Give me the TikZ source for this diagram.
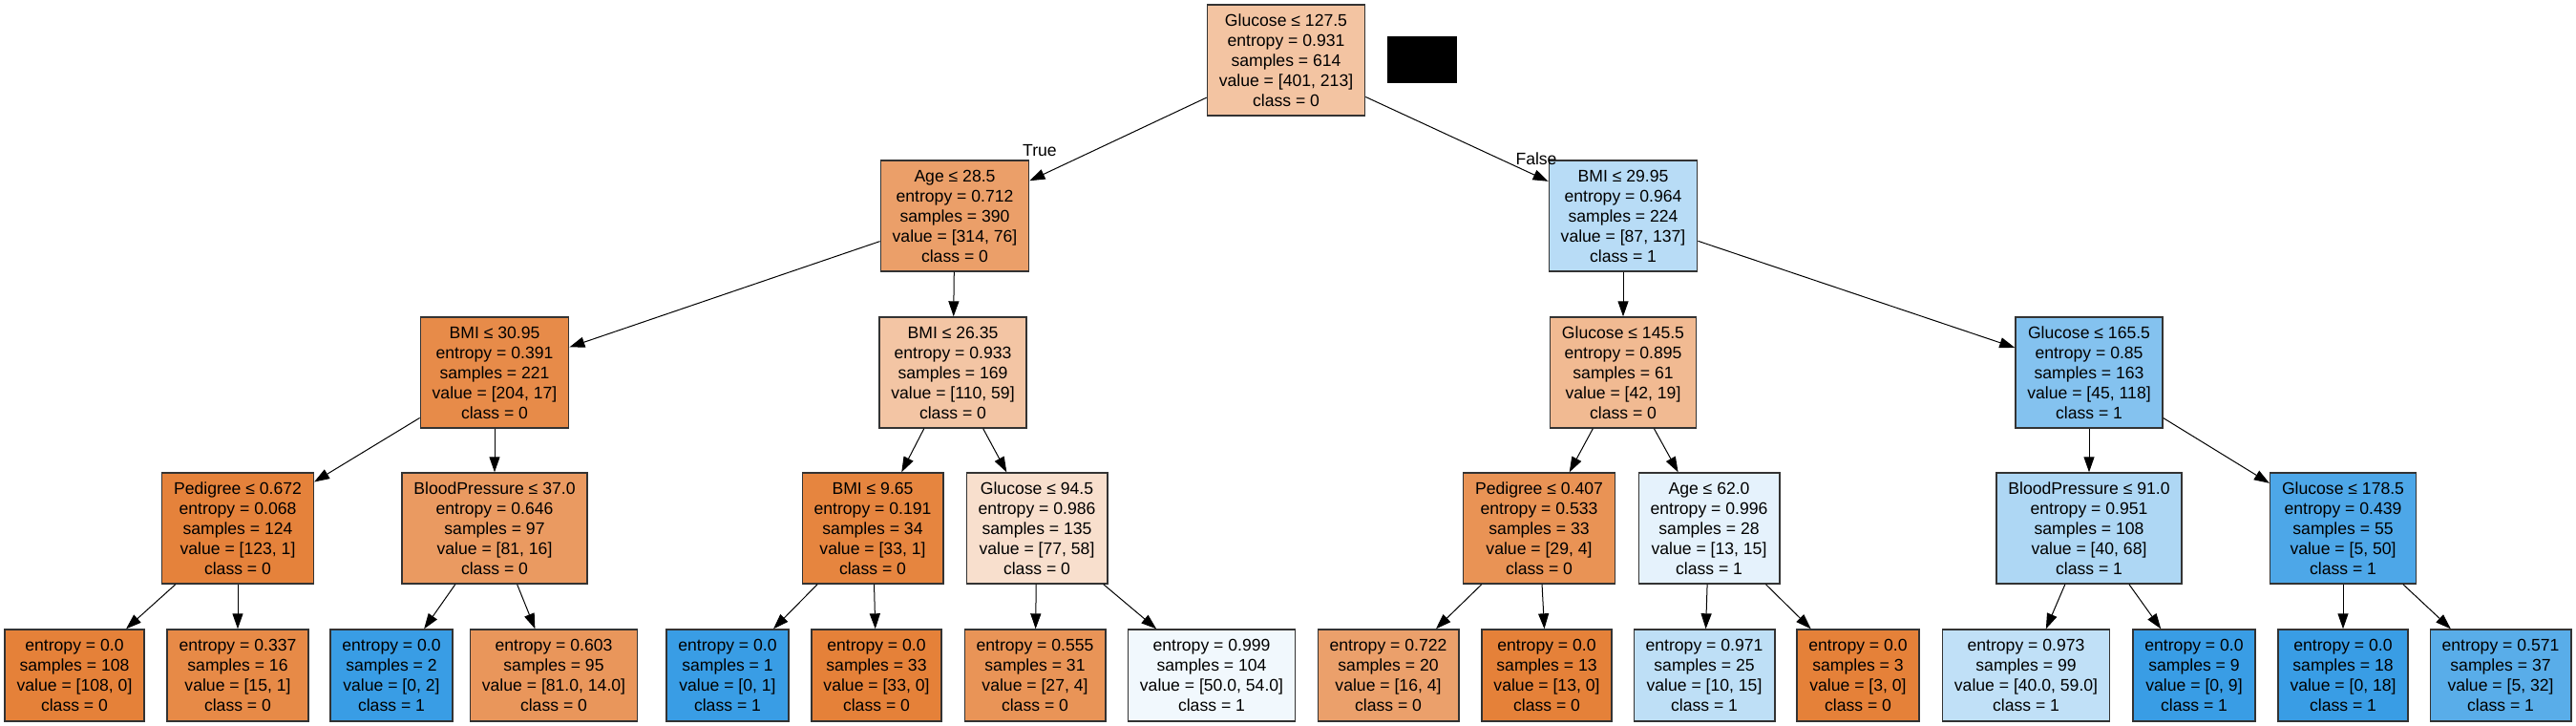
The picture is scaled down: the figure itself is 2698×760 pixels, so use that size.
\documentclass[tikz,border=0pt]{standalone}
\usepackage{fontspec}
\setmainfont{Liberation Sans}
\usetikzlibrary{arrows.meta}

\definecolor{classzero}{RGB}{229,129,57}
\definecolor{classone}{RGB}{57,157,229}

\begin{document}
\begin{tikzpicture}[x=0.5pt, y=-0.5pt,
	box/.style={draw=black!80, line width=0.7pt, rectangle, align=center, inner xsep=6.2pt, inner ysep=2pt, font=\fontsize{8.8}{10.5}\selectfont},
	splitbox/.style={box, minimum height=58pt},
	leafbox/.style={box, minimum height=48pt},
	branch/.style={line width=0.5pt, -{Triangle[length=8pt, width=5.5pt]}}]

	\useasboundingbox (0,0) rectangle (2698,760);

	\node[splitbox, fill=classzero!47] (root) at (1347,63) {Glucose ≤ 127.5\\entropy = 0.931\\samples = 614\\value = [401, 213]\\class = 0};
	\fill (1453,38) rectangle (1526,87);

	\node[splitbox, fill=classzero!76] (age) at (1000,226) {Age ≤ 28.5\\entropy = 0.712\\samples = 390\\value = [314, 76]\\class = 0};
	\node[splitbox, fill=classone!36] (bmiA) at (1700,226) {BMI ≤ 29.95\\entropy = 0.964\\samples = 224\\value = [87, 137]\\class = 1};

	\node[splitbox, fill=classzero!92] (bmiB) at (518,390) {BMI ≤ 30.95\\entropy = 0.391\\samples = 221\\value = [204, 17]\\class = 0};
	\node[splitbox, fill=classzero!46] (bmiC) at (998,390) {BMI ≤ 26.35\\entropy = 0.933\\samples = 169\\value = [110, 59]\\class = 0};
	\node[splitbox, fill=classzero!55] (gluC) at (1700,390) {Glucose ≤ 145.5\\entropy = 0.895\\samples = 61\\value = [42, 19]\\class = 0};
	\node[splitbox, fill=classone!62] (gluD) at (2188,390) {Glucose ≤ 165.5\\entropy = 0.85\\samples = 163\\value = [45, 118]\\class = 1};

	\node[splitbox, fill=classzero!99] (pedA) at (249,553) {Pedigree ≤ 0.672\\entropy = 0.068\\samples = 124\\value = [123, 1]\\class = 0};
	\node[splitbox, fill=classzero!80] (bpA) at (518,553) {BloodPressure ≤ 37.0\\entropy = 0.646\\samples = 97\\value = [81, 16]\\class = 0};
	\node[splitbox, fill=classzero!97] (bmiD) at (914,553) {BMI ≤ 9.65\\entropy = 0.191\\samples = 34\\value = [33, 1]\\class = 0};
	\node[splitbox, fill=classzero!25] (gluB) at (1086,553) {Glucose ≤ 94.5\\entropy = 0.986\\samples = 135\\value = [77, 58]\\class = 0};
	\node[splitbox, fill=classzero!86] (pedB) at (1612,553) {Pedigree ≤ 0.407\\entropy = 0.533\\samples = 33\\value = [29, 4]\\class = 0};
	\node[splitbox, fill=classone!13] (ageB) at (1790,553) {Age ≤ 62.0\\entropy = 0.996\\samples = 28\\value = [13, 15]\\class = 1};
	\node[splitbox, fill=classone!41] (bpB) at (2188,553) {BloodPressure ≤ 91.0\\entropy = 0.951\\samples = 108\\value = [40, 68]\\class = 1};
	\node[splitbox, fill=classone!90] (gluE) at (2454,553) {Glucose ≤ 178.5\\entropy = 0.439\\samples = 55\\value = [5, 50]\\class = 1};

	\node[leafbox, fill=classzero] (leafA) at (78,707) {entropy = 0.0\\samples = 108\\value = [108, 0]\\class = 0};
	\node[leafbox, fill=classzero!93] (leafB) at (249,707) {entropy = 0.337\\samples = 16\\value = [15, 1]\\class = 0};
	\node[leafbox, fill=classone] (leafC) at (410,707) {entropy = 0.0\\samples = 2\\value = [0, 2]\\class = 1};
	\node[leafbox, fill=classzero!83] (leafD) at (580,707) {entropy = 0.603\\samples = 95\\value = [81.0, 14.0]\\class = 0};
	\node[leafbox, fill=classone] (leafE) at (762,707) {entropy = 0.0\\samples = 1\\value = [0, 1]\\class = 1};
	\node[leafbox, fill=classzero] (leafF) at (918,707) {entropy = 0.0\\samples = 33\\value = [33, 0]\\class = 0};
	\node[leafbox, fill=classzero!85] (leafG) at (1084,707) {entropy = 0.555\\samples = 31\\value = [27, 4]\\class = 0};
	\node[leafbox, fill=classone!7] (leafH) at (1269,707) {entropy = 0.999\\samples = 104\\value = [50.0, 54.0]\\class = 1};
	\node[leafbox, fill=classzero!75] (leafI) at (1454,707) {entropy = 0.722\\samples = 20\\value = [16, 4]\\class = 0};
	\node[leafbox, fill=classzero] (leafJ) at (1620,707) {entropy = 0.0\\samples = 13\\value = [13, 0]\\class = 0};
	\node[leafbox, fill=classone!33] (leafK) at (1785,707) {entropy = 0.971\\samples = 25\\value = [10, 15]\\class = 1};
	\node[leafbox, fill=classzero] (leafL) at (1946,707) {entropy = 0.0\\samples = 3\\value = [3, 0]\\class = 0};
	\node[leafbox, fill=classone!32] (leafM) at (2122,707) {entropy = 0.973\\samples = 99\\value = [40.0, 59.0]\\class = 1};
	\node[leafbox, fill=classone] (leafN) at (2298,707) {entropy = 0.0\\samples = 9\\value = [0, 9]\\class = 1};
	\node[leafbox, fill=classone] (leafO) at (2454,707) {entropy = 0.0\\samples = 18\\value = [0, 18]\\class = 1};
	\node[leafbox, fill=classone!84] (leafP) at (2619,707) {entropy = 0.571\\samples = 37\\value = [5, 32]\\class = 1};

	\draw[branch] (root) -- (age);
	\draw[branch] (root) -- (bmiA);
	\draw[branch] (age) -- (bmiB);
	\draw[branch] (age) -- (bmiC);
	\draw[branch] (bmiA) -- (gluC);
	\draw[branch] (bmiA) -- (gluD);
	\draw[branch] (bmiB) -- (pedA);
	\draw[branch] (bmiB) -- (bpA);
	\draw[branch] (bmiC) -- (bmiD);
	\draw[branch] (bmiC) -- (gluB);
	\draw[branch] (gluC) -- (pedB);
	\draw[branch] (gluC) -- (ageB);
	\draw[branch] (gluD) -- (bpB);
	\draw[branch] (gluD) -- (gluE);
	\draw[branch] (pedA) -- (leafA);
	\draw[branch] (pedA) -- (leafB);
	\draw[branch] (bpA) -- (leafC);
	\draw[branch] (bpA) -- (leafD);
	\draw[branch] (bmiD) -- (leafE);
	\draw[branch] (bmiD) -- (leafF);
	\draw[branch] (gluB) -- (leafG);
	\draw[branch] (gluB) -- (leafH);
	\draw[branch] (pedB) -- (leafI);
	\draw[branch] (pedB) -- (leafJ);
	\draw[branch] (ageB) -- (leafK);
	\draw[branch] (ageB) -- (leafL);
	\draw[branch] (bpB) -- (leafM);
	\draw[branch] (bpB) -- (leafN);
	\draw[branch] (gluE) -- (leafO);
	\draw[branch] (gluE) -- (leafP);

	\node[font=\fontsize{8.8}{10.5}\selectfont] (truelabel) at (1089,158) {True};
	\node[font=\fontsize{8.8}{10.5}\selectfont] (falselabel) at (1609,166) {False};
\end{tikzpicture}
\end{document}
